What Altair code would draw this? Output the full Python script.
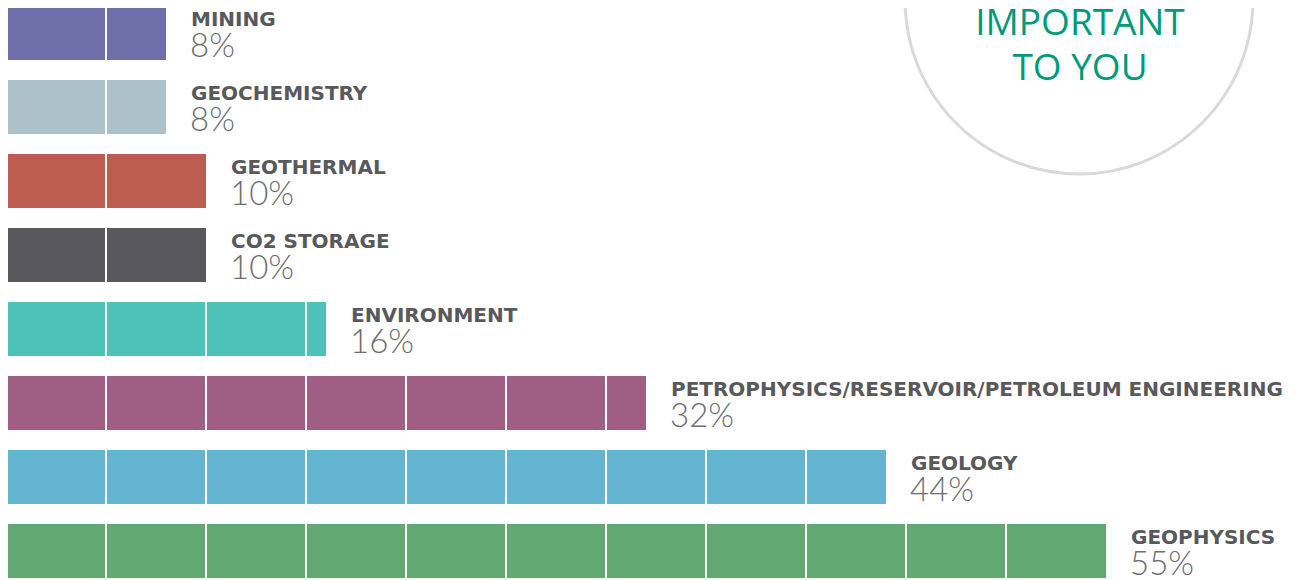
import altair as alt
import pandas as pd

categories = ["MINING", "GEOCHEMISTRY", "GEOTHERMAL", "CO2 STORAGE", "ENVIRONMENT",
              "PETROPHYSICS/RESERVOIR/PETROLEUM ENGINEERING", "GEOLOGY", "GEOPHYSICS"]
percents = [8, 8, 10, 10, 16, 32, 44, 55]
colors = ["#6e6ea8", "#adc1cb", "#bd5d52", "#58585d", "#4cc2b9", "#9f5f85", "#64b5d1", "#62a873"]
segment_step = 5
title_lines = ["IMPORTANT", "TO YOU"]

df = pd.DataFrame({"cat": categories, "pct": percents, "color": colors})
df["pct_label"] = df["pct"].astype(str) + "%"

div_rows = []
for c, p in zip(categories, percents):
    k = segment_step
    while k < p:
        div_rows.append({"cat": c, "d0": k - 0.05, "d1": k + 0.05})
        k += segment_step
div = pd.DataFrame(div_rows)

W, H = 1285, 572
xscale = alt.Scale(domain=[0.1, 0.1 + W / 20], range=[0, W], nice=False, zero=False)
yscale = alt.Scale(domain=categories, range=[-2, 570], paddingInner=20 / 74, paddingOuter=0)

X = lambda f: alt.X(f, type="quantitative", scale=xscale, axis=None)
Y = alt.Y("cat:N", scale=yscale, axis=None, sort=categories)

bars = alt.Chart(df).mark_bar(opacity=1).encode(
    x=alt.X("zero:Q", scale=xscale, axis=None),
    x2="pct:Q",
    y=Y,
    color=alt.Color("color:N", scale=None),
).transform_calculate(zero="0")

dividers = alt.Chart(div).mark_bar(color="white", opacity=1).encode(
    x=X("d0"), x2="d1", y=Y
)

names = alt.Chart(df).mark_text(
    align="left", baseline="alphabetic", dx=25, dy=-7,
    font="DejaVu Sans", fontWeight="bold", fontSize=20, color="#58595b"
).encode(x=X("pct"), y=Y, text="cat:N")

pcts = alt.Chart(df).mark_text(
    align="left", baseline="alphabetic", dx=24, dy=24,
    font="Lato", fontWeight=300, fontSize=33, color="#6d6e71"
).encode(x=X("pct"), y=Y, text="pct_label:N")

main = alt.layer(bars, dividers, names, pcts)

circle_df = pd.DataFrame({"k": [0]})
circle = alt.Chart(circle_df).mark_point(
    shape="circle", filled=True, fill="white", stroke="#d9d9d9", strokeWidth=3,
    size=348 ** 2, opacity=1
).encode(x=alt.value(1079 - 8), y=alt.value(0 - 8))

tdf = pd.DataFrame({"t": title_lines, "i": [0, 1]})
title = alt.Chart(tdf).mark_text(
    align="center", baseline="alphabetic", font="Open Sans", fontSize=37,
    color="#009a7a"
).encode(
    x=alt.value(1080 - 8),
    y=alt.Y("i:Q", scale=alt.Scale(domain=[0, 1], range=[35 - 8, 80 - 8], nice=False, zero=False), axis=None),
    text="t:N",
)

deco = alt.layer(circle, title)

chart = alt.layer(deco, main).resolve_scale(y="independent", x="independent").properties(
    width=W, height=H, padding=0, autosize=alt.AutoSizeParams(type="none")
).configure_view(stroke=None)

chart.save("out.html", embed_options={"renderer": "svg", "actions": False})
